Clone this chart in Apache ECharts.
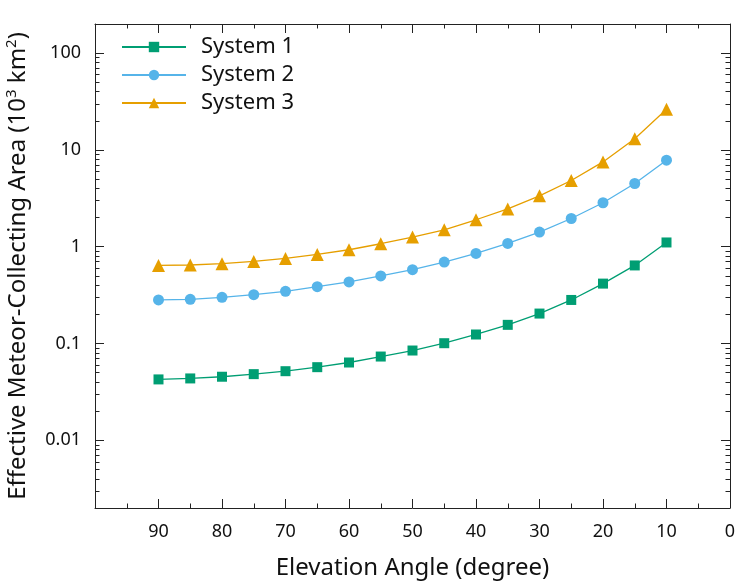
<!DOCTYPE html>
<html>
<head>
<meta charset="utf-8">
<script src="https://cdn.jsdelivr.net/npm/echarts@6/dist/echarts.min.js"></script>
<style>
  html, body { margin: 0; padding: 0; background: #fff; }
  #chart { width: 747px; height: 587px; }
</style>
</head>
<body>
<div id="chart"></div>
<script>
// elevation angle (degree)
var angles = [90, 85, 80, 75, 70, 65, 60, 55, 50, 45, 40, 35, 30, 25, 20, 15, 10];
// effective area, 10^3 km^2
var system1 = [0.0426, 0.0436, 0.0454, 0.0483, 0.0518, 0.0570, 0.0637, 0.0734, 0.0847, 0.1008, 0.124, 0.156, 0.204, 0.282, 0.416, 0.641, 1.107];
var system2 = [0.282, 0.286, 0.300, 0.320, 0.346, 0.387, 0.433, 0.499, 0.579, 0.695, 0.853, 1.081, 1.418, 1.958, 2.847, 4.50, 7.83];
var system3 = [0.641, 0.648, 0.668, 0.705, 0.757, 0.833, 0.931, 1.074, 1.259, 1.496, 1.90, 2.46, 3.36, 4.83, 7.52, 13.08, 26.3];
// minor ticks on the log axis
var yMinorTicks = [0.003, 0.004, 0.005, 0.006, 0.007, 0.008, 0.009,
    0.02, 0.03, 0.04, 0.05, 0.06, 0.07, 0.08, 0.09,
    0.2, 0.3, 0.4, 0.5, 0.6, 0.7, 0.8, 0.9,
    2, 3, 4, 5, 6, 7, 8, 9,
    20, 30, 40, 50, 60, 70, 80, 90];

var FONT = 'Noto Sans';
var AXIS_COLOR = '#222';
var TEXT_COLOR = '#111';
var GRID = { left: 95, right: 17, top: 24, bottom: 79, outerBoundsMode: 'none' };

function pairs(vals) {
    return angles.map(function (a, i) { return [a, vals[i]]; });
}

var chart = echarts.init(document.getElementById('chart'));

var xBase = {
    type: 'value', inverse: true, min: 0, max: 100, interval: 10,
    axisLine: { show: true, onZero: false, lineStyle: { color: AXIS_COLOR, width: 1 } },
    axisTick: { show: true, inside: true, length: 9, lineStyle: { color: AXIS_COLOR } },
    minorTick: { show: true, splitNumber: 2, length: 4.5, lineStyle: { color: AXIS_COLOR } },
    splitLine: { show: false }
};
var yBase = {
    type: 'log', logBase: 10, min: 0.002, max: 200,
    axisLine: { show: true, onZero: false, lineStyle: { color: AXIS_COLOR, width: 1 } },
    axisTick: { show: true, inside: true, length: 9, lineStyle: { color: AXIS_COLOR } },
    splitLine: { show: false }
};
// second grid (same box) only carries the short log ticks
var yMinor = {
    gridIndex: 1, axisLine: { show: false, onZero: false }, axisLabel: { show: false },
    axisTick: { show: true, inside: true, length: 4.5, customValues: yMinorTicks, lineStyle: { color: AXIS_COLOR } }
};

var option = {
    animation: false,
    textStyle: { fontFamily: FONT },
    grid: [Object.assign({}, GRID), Object.assign({}, GRID)],
    legend: {
        left: 121, top: 36, orient: 'vertical', padding: 0,
        itemWidth: 64, itemHeight: 13, itemGap: 6,
        textStyle: { fontSize: 22, lineHeight: 22, color: TEXT_COLOR, fontFamily: FONT, padding: [0, 0, 0, 10] },
        data: ['System 1', 'System 2', 'System 3']
    },
    xAxis: [
        Object.assign({}, xBase, {
            position: 'bottom',
            name: 'Elevation Angle (degree)', nameLocation: 'middle', nameGap: 48,
            nameTextStyle: { fontSize: 24, color: TEXT_COLOR, fontFamily: FONT },
            axisLabel: { fontSize: 18, color: TEXT_COLOR, margin: 15, showMaxLabel: false, fontFamily: FONT }
        }),
        Object.assign({}, xBase, { position: 'top', axisLabel: { show: false } }),
        { type: 'value', gridIndex: 1, inverse: true, min: 0, max: 100, show: false }
    ],
    yAxis: [
        Object.assign({}, yBase, {
            position: 'left',
            name: 'Effective Meteor-Collecting Area (10{sup|3} km{sup|2})',
            nameLocation: 'middle', nameGap: 63, nameRotate: 90,
            nameTextStyle: {
                fontSize: 24, color: TEXT_COLOR, fontFamily: FONT, lineHeight: 28,
                rich: { sup: { fontSize: 15, lineHeight: 15, verticalAlign: 'top', color: TEXT_COLOR, fontFamily: FONT } }
            },
            axisLabel: {
                fontSize: 18, color: TEXT_COLOR, margin: 14, fontFamily: FONT,
                showMinLabel: false, showMaxLabel: false,
                formatter: function (v) { return String(v); }
            }
        }),
        Object.assign({}, yBase, { position: 'right', axisLabel: { show: false } }),
        Object.assign({}, yBase, yMinor, { position: 'left' }),
        Object.assign({}, yBase, yMinor, { position: 'right' })
    ],
    series: [
        {
            name: 'System 1', type: 'line', data: pairs(system1),
            xAxisIndex: 2, yAxisIndex: 2,
            symbol: 'rect', symbolSize: 10,
            itemStyle: { color: '#009E73' }, lineStyle: { width: 1.3, color: '#009E73' }
        },
        {
            name: 'System 2', type: 'line', data: pairs(system2),
            symbol: 'circle', symbolSize: 11,
            itemStyle: { color: '#56B4E9' }, lineStyle: { width: 1.3, color: '#56B4E9' }
        },
        {
            name: 'System 3', type: 'line', data: pairs(system3),
            symbol: 'triangle', symbolSize: 13,
            itemStyle: { color: '#E69F00' }, lineStyle: { width: 1.3, color: '#E69F00' }
        }
    ]
};
chart.setOption(option);
</script>
</body>
</html>
